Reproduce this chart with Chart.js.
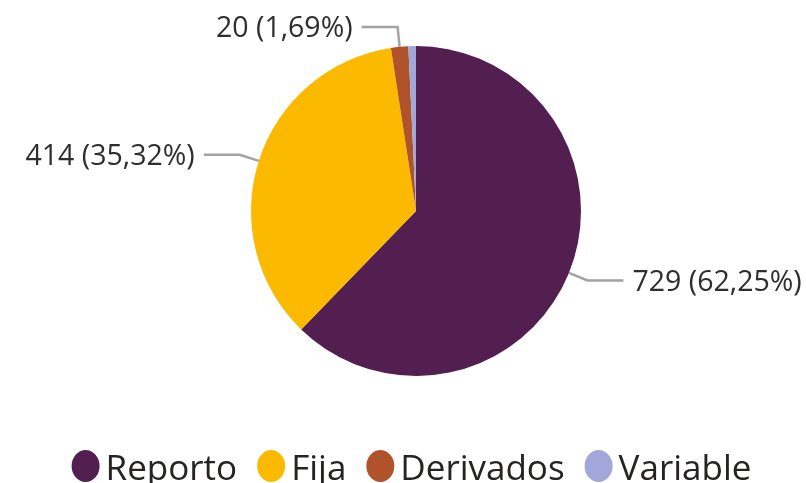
<!DOCTYPE html>
<html>
<head>
<meta charset="utf-8">
<script src="https://cdn.jsdelivr.net/npm/chart.js@4"></script>
<style>
  html, body { margin: 0; padding: 0; background: #fff; }
  #wrap { width: 806px; height: 483px; }
</style>
</head>
<body>
<div id="wrap"><canvas id="myChart" width="806" height="483"></canvas></div>
<script>
// data
var categories = ["Reporto", "Fija", "Derivados", "Variable"];
var counts = [729, 414, 20, 9];
var shares = [62.25, 35.32, 1.69, 0.74];
var shareText = ["62,25%", "35,32%", "1,69%", "0,74%"];
var showLabel = [true, true, true, false];
var colors = ["#531f51", "#fbb900", "#b1532a", "#a1a7d8"];

var FONT = "'Open Sans', sans-serif";

// leader lines + "n (p%)" labels
var sliceLabels = {
  id: "sliceLabels",
  afterDatasetsDraw: function(chart) {
    var ctx = chart.ctx;
    var arcs = chart.getDatasetMeta(0).data;
    ctx.save();
    ctx.font = "28.5px " + FONT;
    ctx.textBaseline = "middle";
    for (var i = 0; i < arcs.length; i++) {
      if (!showLabel[i]) continue;
      var a = arcs[i];
      var mid = (a.startAngle + a.endAngle) / 2;
      var dx = Math.cos(mid), dy = Math.sin(mid);
      var ax = a.x + dx * a.outerRadius, ay = a.y + dy * a.outerRadius;
      var ex = ax + dx * 20, ey = ay + dy * 20;
      var side = dx >= 0 ? 1 : -1;
      var hx = ex + side * 36;
      ctx.strokeStyle = "#a3a3a3";
      ctx.lineWidth = 2.5;
      ctx.beginPath();
      ctx.moveTo(ax, ay);
      ctx.lineTo(ex, ey);
      ctx.lineTo(hx, ey);
      ctx.stroke();
      ctx.fillStyle = "#2e2e2e";
      ctx.textAlign = side > 0 ? "left" : "right";
      ctx.fillText(counts[i] + " (" + shareText[i] + ")", hx + side * 9, ey + 2);
    }
    ctx.restore();
  }
};

// legend along the bottom, oval markers
var ovalLegend = {
  id: "ovalLegend",
  afterDraw: function(chart) {
    var ctx = chart.ctx;
    ctx.save();
    ctx.font = "35px " + FONT;
    ctx.textBaseline = "alphabetic";
    ctx.textAlign = "left";
    var dot = 30, gap = 5, space = 19;
    var total = 0;
    for (var i = 0; i < categories.length; i++) {
      total += dot + gap + ctx.measureText(categories[i]).width + (i ? space : 0);
    }
    var x = 411 - total / 2;
    var y = 466;
    for (var i = 0; i < categories.length; i++) {
      ctx.fillStyle = colors[i];
      ctx.beginPath();
      ctx.ellipse(x + dot / 2, y, 14, 16, 0, 0, Math.PI * 2);
      ctx.fill();
      ctx.fillStyle = "#252423";
      ctx.fillText(categories[i], x + dot + gap, 480);
      x += dot + gap + ctx.measureText(categories[i]).width + space;
    }
    ctx.restore();
  }
};

var ctx = document.getElementById("myChart").getContext("2d");
var myChart = new Chart(ctx, {
  type: "pie",
  data: {
    labels: categories,
    datasets: [{
      data: shares,
      backgroundColor: colors,
      borderWidth: 0
    }]
  },
  options: {
    responsive: false,
    animation: false,
    layout: { padding: { top: 46, bottom: 107, left: 200, right: 174 } },
    plugins: {
      legend: { display: false },
      tooltip: { enabled: false }
    }
  },
  plugins: [sliceLabels, ovalLegend]
});
</script>
</body>
</html>
